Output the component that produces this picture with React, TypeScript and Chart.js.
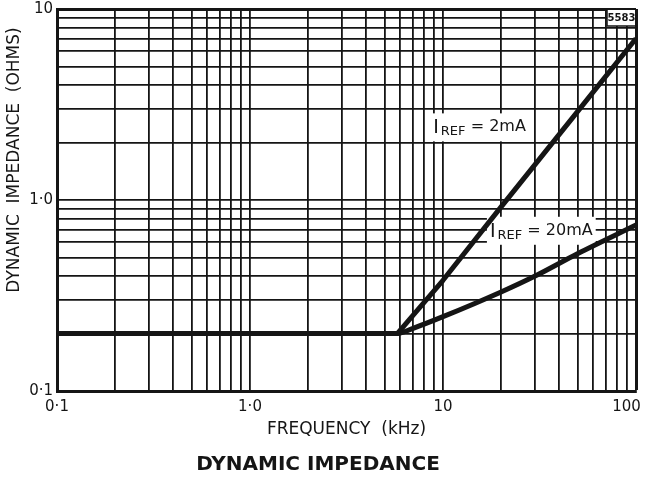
import { useEffect, useRef } from "react";
import { Chart, registerables } from "chart.js";

Chart.register(...registerables);

const FONT = "'DejaVu Sans', 'Liberation Sans', sans-serif";
const INK = "#151515";

// Grid lines (log decades, 1..9 per decade)
const xGridValues = [
  0.1, 0.2, 0.3, 0.4, 0.5, 0.6, 0.7, 0.8, 0.9,
  1, 2, 3, 4, 5, 6, 7, 8, 9,
  10, 20, 30, 40, 50, 60, 70, 80, 90, 100,
];
const yGridValues = [
  0.1, 0.2, 0.3, 0.4, 0.5, 0.6, 0.7, 0.8, 0.9,
  1, 2, 3, 4, 5, 6, 7, 8, 9, 10,
];

// Tick labels
const xLabelValues = [0.1, 1, 10, 100];
const xLabelTexts = ["0·1", "1·0", "10", "100    "];
const yLabelValues = [0.1, 1, 10];
const yLabelTexts = ["0·1", "1·0", "10"];

// Series: I_REF = 2mA
const freq2mA = [0.1, 5.8, 10, 20, 50, 100];
const imp2mA = [0.2, 0.2, 0.38, 0.92, 2.92, 7.0];

// Series: I_REF = 20mA
const freq20mA = [0.1, 5.8, 7, 10, 20, 30, 50, 100];
const imp20mA = [0.2, 0.2, 0.213, 0.245, 0.33, 0.4, 0.525, 0.74];

// Curve annotations (anchored at data coordinates: left edge, vertical centre)
const annotations = [
  { x: 8.9, y: 2.4, rest: " = 2mA" },
  { x: 17.5, y: 0.69, rest: " = 20mA" },
];

function labelFor(v: number, values: number[], texts: string[]) {
  for (let i = 0; i < values.length; i++) {
    if (Math.abs(v - values[i]) < values[i] * 1e-6) return texts[i];
  }
  return "";
}

const decorPlugin = {
  id: "decor",
  beforeDatasetsDraw(chart: any) {
    const { ctx, chartArea, scales } = chart;
    const xs = scales.x;
    const ys = scales.y;
    ctx.save();
    // curve labels with white backing
    for (const a of annotations) {
      const px = xs.getPixelForValue(a.x);
      const py = ys.getPixelForValue(a.y);
      ctx.font = `19px ${FONT}`;
      const wI = ctx.measureText("I").width;
      ctx.font = `13px ${FONT}`;
      const wS = ctx.measureText("REF").width;
      ctx.font = `16px ${FONT}`;
      const wR = ctx.measureText(a.rest).width;
      const total = wI + 2 + wS + wR;
      ctx.fillStyle = "#fff";
      ctx.fillRect(px - 3, py - 14, total + 6, 28);
      ctx.fillStyle = INK;
      ctx.textBaseline = "alphabetic";
      ctx.textAlign = "left";
      const base = py + 6;
      ctx.font = `19px ${FONT}`;
      ctx.fillText("I", px, base);
      ctx.font = `13px ${FONT}`;
      ctx.fillText("REF", px + wI + 2, base + 2);
      ctx.font = `16px ${FONT}`;
      ctx.fillText(a.rest, px + wI + 2 + wS, base - 2);
    }
    // figure number tag at top right
    const r = chartArea.right;
    const t = chartArea.top;
    ctx.fillStyle = "#fff";
    ctx.fillRect(r - 29, t + 1, 28, 16);
    ctx.strokeStyle = INK;
    ctx.lineWidth = 1.5;
    ctx.beginPath();
    ctx.moveTo(r - 29, t);
    ctx.lineTo(r - 29, t + 17);
    ctx.lineTo(r, t + 17);
    ctx.stroke();
    ctx.fillStyle = INK;
    ctx.font = `bold 10px ${FONT}`;
    ctx.textAlign = "center";
    ctx.textBaseline = "middle";
    ctx.fillText("5583", r - 14.5, t + 9);
    ctx.restore();
  },
  afterDraw(chart: any) {
    const { ctx, chartArea } = chart;
    ctx.save();
    ctx.translate(15, (chartArea.top + chartArea.bottom) / 2 - 40);
    ctx.rotate(-Math.PI / 2);
    ctx.fillStyle = INK;
    ctx.font = `17px ${FONT}`;
    ctx.textAlign = "center";
    ctx.textBaseline = "middle";
    ctx.fillText("DYNAMIC  IMPEDANCE  (OHMS)", 0, 0);
    ctx.restore();
  },
};

export default function App() {
  const ref = useRef<HTMLCanvasElement>(null);

  useEffect(() => {
    const canvas = ref.current;
    if (!canvas) return;
    const chart = new Chart(canvas, {
      type: "line",
      data: {
        datasets: [
          {
            label: "I REF = 2mA",
            data: freq2mA.map((x, i) => ({ x, y: imp2mA[i] })),
            borderColor: INK,
            borderWidth: 5,
            pointRadius: 0,
            tension: 0,
            fill: false,
            borderJoinStyle: "round",
          },
          {
            label: "I REF = 20mA",
            data: freq20mA.map((x, i) => ({ x, y: imp20mA[i] })),
            borderColor: INK,
            borderWidth: 5,
            pointRadius: 0,
            cubicInterpolationMode: "monotone",
            fill: false,
            borderJoinStyle: "round",
          },
        ],
      },
      options: {
        animation: false,
        responsive: false,
        maintainAspectRatio: false,
        layout: { padding: { left: 0, right: 9, top: 9, bottom: 0 } },
        plugins: {
          legend: { display: false },
          tooltip: { enabled: false },
          title: {
            display: true,
            position: "bottom",
            text: "DYNAMIC IMPEDANCE",
            color: INK,
            font: { family: FONT, size: 20, weight: "bold" },
            padding: { top: 0, bottom: 3 },
          },
        },
        scales: {
          x: {
            type: "logarithmic",
            min: 0.1,
            max: 100,
            afterBuildTicks: (s: any) => {
              s.ticks = xGridValues.map((v) => ({ value: v }));
            },
            afterFit: (s: any) => {
              s.height = 62;
              s.paddingLeft = 0;
              s.paddingRight = 0;
            },
            ticks: {
              autoSkip: false,
              maxRotation: 0,
              padding: 7,
              color: INK,
              font: { family: FONT, size: 15 },
              callback: (v: any) => labelFor(Number(v), xLabelValues, xLabelTexts),
            },
            grid: {
              color: INK,
              lineWidth: (c: any) => (c.tick && c.tick.value === 100 ? 3 : 1.8),
              drawTicks: false,
            },
            border: { display: true, color: INK, width: 3 },
            title: {
              display: true,
              text: "FREQUENCY  (kHz)",
              color: INK,
              font: { family: FONT, size: 17 },
              padding: { top: 0, bottom: 13 },
            },
          },
          y: {
            type: "logarithmic",
            min: 0.1,
            max: 10,
            afterBuildTicks: (s: any) => {
              s.ticks = yGridValues.map((v) => ({ value: v }));
            },
            afterFit: (s: any) => {
              s.width = 57;
              s.paddingTop = 0;
              s.paddingBottom = 0;
            },
            ticks: {
              autoSkip: false,
              padding: 4,
              color: INK,
              font: { family: FONT, size: 15 },
              callback: (v: any) => labelFor(Number(v), yLabelValues, yLabelTexts),
            },
            grid: {
              color: INK,
              lineWidth: (c: any) => (c.tick && c.tick.value === 10 ? 3 : 1.8),
              drawTicks: false,
            },
            border: { display: true, color: INK, width: 3 },
            title: { display: false },
          },
        },
      },
      plugins: [decorPlugin],
    } as any);
    return () => chart.destroy();
  }, []);

  return (
    <div
      style={{
        position: "absolute",
        left: 0,
        top: 0,
        width: 645,
        height: 480,
        background: "#fff",
      }}
    >
      <canvas
        ref={ref}
        width={645}
        height={480}
        style={{ display: "block", width: 645, height: 480 }}
      />
    </div>
  );
}
